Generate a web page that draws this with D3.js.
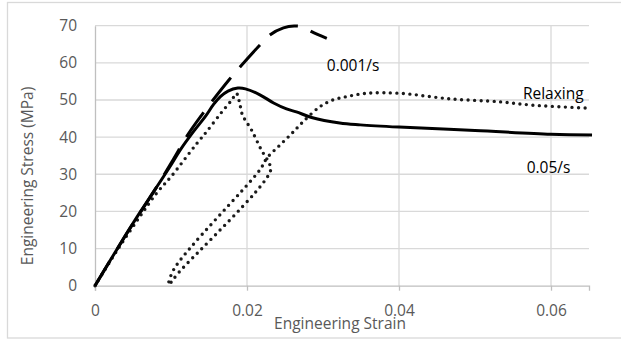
<!DOCTYPE html>
<meta charset="utf-8">
<style>
body { margin: 0; background: #fff; }
text { font-family: "Open Sans", sans-serif; }
</style>
<svg width="621" height="340"></svg>
<script src="https://cdn.jsdelivr.net/npm/d3@7"></script>
<script>

// tick values
var xTicks = [0, 0.02, 0.04, 0.06];
var yTicks = [0, 10, 20, 30, 40, 50, 60, 70];

// 0.05/s test (solid)
var strainFast = [0, 0.002, 0.004, 0.006, 0.008, 0.010, 0.0112, 0.013, 0.0145, 0.0156, 0.0165, 0.0175, 0.0188, 0.0198, 0.0217, 0.0235, 0.0252, 0.0265, 0.0285, 0.0322, 0.0349, 0.040, 0.050, 0.060, 0.0654];
var stressFast = [0, 6.8, 13.5, 20, 26.2, 32.5, 36.5, 41.6, 45.5, 48.8, 50.9, 52.4, 53.2, 53, 51.4, 49.2, 47.6, 46.8, 45.3, 43.8, 43.3, 42.7, 41.8, 40.8, 40.6];

// 0.001/s test (long dash)
var strainSlow = [0, 0.004, 0.008, 0.0103, 0.0122, 0.0142, 0.0153, 0.0177, 0.019, 0.0217, 0.023, 0.0248, 0.0262, 0.0275, 0.0285, 0.0305];
var stressSlow = [0, 13.5, 26.2, 34, 40.6, 46.4, 49.4, 55.6, 58.7, 64.8, 67.5, 69.4, 69.9, 69.6, 68.4, 66.6];

// relaxing test (round dot)
var strainRelax = [0, 0.003, 0.0059, 0.0081, 0.0101, 0.0134, 0.0147, 0.0167, 0.018, 0.0186, 0.019, 0.0194, 0.0206, 0.0219, 0.0228, 0.0231,
                   0.0110, 0.0097, 0.0104, 0.0217, 0.0226, 0.0243, 0.0259, 0.0274, 0.0296, 0.0313, 0.0331, 0.0357, 0.0401, 0.0467, 0.0533, 0.0576, 0.0649];
var stressRelax = [0, 9.8, 18.6, 24.9, 29.6, 38.3, 41.5, 46.8, 50, 51.8, 49.5, 46, 41.9, 36.5, 33.4, 31.0,
                   3.5, 0.3, 4.5, 31.2, 34.3, 37.8, 41, 44.2, 48.2, 50, 50.9, 51.8, 51.8, 50.3, 49.5, 48.6, 47.8];

var labels = [
  {text: "0.001/s", x: 0.0305, y: 57.8},
  {text: "Relaxing", x: 0.0563, y: 50.3},
  {text: "0.05/s", x: 0.0568, y: 30.3}
];

var svg = d3.select("svg");

var plotLeft = 95, plotRight = 589, plotTop = 25.7, plotBottom = 285.7;

var x = d3.scaleLinear().domain([0, 0.065]).range([plotLeft, plotRight]);
var y = d3.scaleLinear().domain([0, 70]).range([plotBottom, plotTop]);

// outer chart border
svg.append("rect")
   .attr("x", 7.5).attr("y", 2.5)
   .attr("width", 620).attr("height", 335.5)
   .attr("fill", "#fff")
   .attr("stroke", "#d9d9d9")
   .attr("stroke-width", 1.3);

// gridlines
svg.append("g")
   .selectAll("line")
   .data(yTicks.slice(1))
   .enter().append("line")
   .attr("x1", plotLeft).attr("x2", plotRight)
   .attr("y1", function(d) { return y(d); })
   .attr("y2", function(d) { return y(d); })
   .attr("stroke", "#d9d9d9")
   .attr("stroke-width", 1.3);

svg.append("g")
   .selectAll("line")
   .data(xTicks.slice(1))
   .enter().append("line")
   .attr("x1", function(d) { return x(d); })
   .attr("x2", function(d) { return x(d); })
   .attr("y1", plotTop).attr("y2", plotBottom)
   .attr("stroke", "#d9d9d9")
   .attr("stroke-width", 1.3);

// axes
var xAxis = svg.append("g")
   .attr("transform", "translate(0," + plotBottom + ")")
   .call(d3.axisBottom(x).tickValues(xTicks).tickFormat(d3.format("")).tickSize(5).tickPadding(14));
var yAxis = svg.append("g")
   .attr("transform", "translate(" + plotLeft + ",0)")
   .call(d3.axisLeft(y).tickValues(yTicks).tickSize(0).tickPadding(18));

[xAxis, yAxis].forEach(function(a) {
  a.select(".domain").attr("stroke", "#bfbfbf").attr("stroke-width", 1.3);
  a.selectAll(".tick line").attr("stroke", "#bfbfbf").attr("stroke-width", 1.3);
  a.selectAll(".tick text")
   .attr("fill", "#595959")
   .style("font-family", "'Open Sans', sans-serif")
   .style("font-size", "15.5px");
});

// axis titles
svg.append("text")
   .attr("x", 340).attr("y", 329)
   .attr("text-anchor", "middle")
   .attr("fill", "#595959")
   .style("font-size", "15.5px")
   .text("Engineering Strain");

svg.append("text")
   .attr("transform", "translate(33,176) rotate(-90)")
   .attr("text-anchor", "middle")
   .attr("fill", "#595959")
   .style("font-size", "15.5px")
   .text("Engineering Stress (MPa)");

// curves
var line = d3.line()
   .x(function(d) { return x(d[0]); })
   .y(function(d) { return y(d[1]); })
   .curve(d3.curveCatmullRom.alpha(0.5));

var plot = svg.append("g");

plot.append("path")
   .datum(d3.zip(strainRelax, stressRelax))
   .attr("d", line)
   .attr("fill", "none")
   .attr("stroke", "#1a1a1a")
   .attr("stroke-width", 3.4)
   .attr("stroke-linecap", "round")
   .attr("stroke-dasharray", "0,6.5");

plot.append("path")
   .datum(d3.zip(strainFast, stressFast))
   .attr("d", line)
   .attr("fill", "none")
   .attr("stroke", "#000")
   .attr("stroke-width", 3);

var dashed = plot.append("path")
   .datum(d3.zip(strainSlow, stressSlow))
   .attr("d", line)
   .attr("fill", "none")
   .attr("stroke", "#000")
   .attr("stroke-width", 3)
   .attr("stroke-dasharray", "30,14");

// line the dash pattern up so a dash begins near strain 0.023
var node = dashed.node(), total = node.getTotalLength();
var lo = 0, hi = total, target = x(0.023);
for (var i = 0; i < 40; i++) {
  var mid = (lo + hi) / 2;
  if (node.getPointAtLength(mid).x < target) lo = mid; else hi = mid;
}
dashed.attr("stroke-dashoffset", (44 - (lo % 44)) % 44);

// series labels
svg.append("g")
   .selectAll("text")
   .data(labels)
   .enter().append("text")
   .attr("x", function(d) { return x(d.x); })
   .attr("y", function(d) { return y(d.y); })
   .attr("fill", "#000")
   .style("font-size", "15.5px")
   .text(function(d) { return d.text; });

</script>
